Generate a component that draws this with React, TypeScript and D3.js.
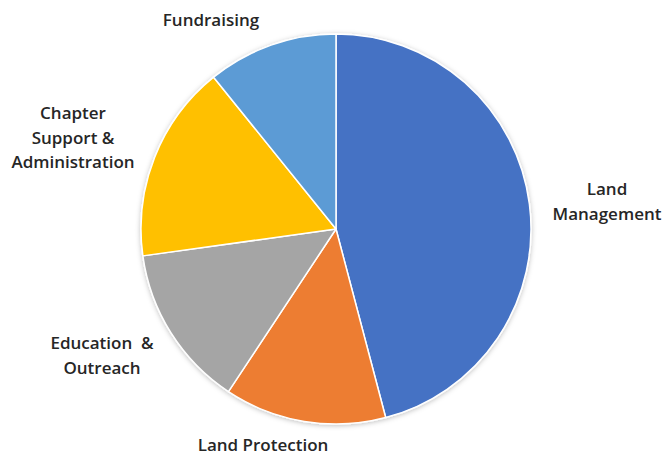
import React, { useRef, useEffect } from "react";
import * as d3 from "d3";

const categories = [
  "Land Management",
  "Land Protection",
  "Education & Outreach",
  "Chapter Support & Administration",
  "Fundraising",
];
const values = [45.9, 13.4, 13.5, 16.4, 10.8];
const colors = ["#4472C4", "#ED7D31", "#A5A5A5", "#FFC000", "#5B9BD5"];

// label lines and where they sit (centre x, first line y)
const labelLines = [
  ["Land", "Management"],
  ["Land Protection"],
  ["Education  &", "Outreach"],
  ["Chapter", "Support &", "Administration"],
  ["Fundraising"],
];
const labelPos: [number, number][] = [
  [607, 190],
  [263, 446],
  [102, 344],
  [73, 114],
  [211, 21],
];

const App: React.FC = () => {
  const ref = useRef<SVGSVGElement>(null);

  useEffect(() => {
    const width = 663;
    const height = 455;
    const cx = 336;
    const cy = 229;
    const radius = 195;

    const svg = d3.select(ref.current);
    svg.selectAll("*").remove();
    svg.attr("width", width).attr("height", height);

    const defs = svg.append("defs");
    const filter = defs
      .append("filter")
      .attr("id", "shadow")
      .attr("x", "-10%")
      .attr("y", "-10%")
      .attr("width", "120%")
      .attr("height", "120%");
    filter
      .append("feDropShadow")
      .attr("dx", 0)
      .attr("dy", 1)
      .attr("stdDeviation", 2.5)
      .attr("flood-color", "#000")
      .attr("flood-opacity", 0.25);

    const data = categories.map((c, i) => ({ name: c, value: values[i], i }));

    const pie = d3
      .pie<{ name: string; value: number; i: number }>()
      .sort(null)
      .value((d) => d.value);

    const arc = d3
      .arc<d3.PieArcDatum<{ name: string; value: number; i: number }>>()
      .innerRadius(0)
      .outerRadius(radius);

    const g = svg
      .append("g")
      .attr("transform", `translate(${cx},${cy})`)
      .attr("filter", "url(#shadow)");

    g.selectAll("path")
      .data(pie(data))
      .enter()
      .append("path")
      .attr("d", arc)
      .attr("fill", (d) => colors[d.data.i])
      .attr("stroke", "#fff")
      .attr("stroke-width", 1.5)
      .attr("stroke-linejoin", "round");

    // Labels
    const labels = svg.append("g");
    labelLines.forEach((lines, i) => {
      const [x, y] = labelPos[i];
      const t = labels
        .append("text")
        .attr("x", x)
        .attr("y", y)
        .attr("text-anchor", "middle")
        .attr("dominant-baseline", "middle")
        .style("font-family", "'Open Sans', sans-serif")
        .style("font-weight", 600)
        .style("font-size", "17px")
        .style("fill", "#262626");
      lines.forEach((line, j) => {
        t.append("tspan")
          .attr("x", x)
          .attr("y", y + j * 24.5)
          .style("white-space", "pre")
          .text(line);
      });
    });
  }, []);

  return (
    <div
      style={{
        position: "fixed",
        left: 0,
        top: 0,
        width: 663,
        height: 455,
        background: "#fff",
      }}
    >
      <svg ref={ref} style={{ display: "block" }}></svg>
    </div>
  );
};

export default App;
